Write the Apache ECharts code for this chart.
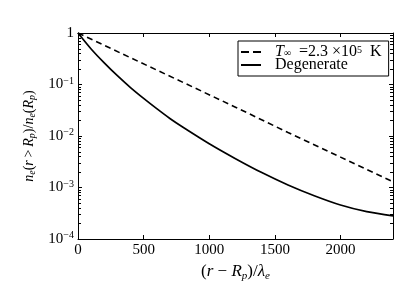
<!DOCTYPE html>
<html>
<head>
<meta charset="utf-8">
<script src="https://cdn.jsdelivr.net/npm/echarts@6/dist/echarts.min.js"></script>
<style>html,body{margin:0;padding:0;background:#fff}#c{width:415px;height:305px}</style>
</head>
<body>
<div id="c"></div>
<script>
// Data
const xDegenerate = [0,100,200,300,400,500,600,700,800,1000,1200,1400,1600,1800,2000,2200,2400];
const degenerate = [1,0.490,0.263,0.148,0.0871,0.0537,0.0339,0.0219,0.0148,0.00708,0.00363,0.00195,0.00112,0.000692,0.000457,0.000339,0.000282];
const xThermal = [0,400,800,1200,1600,2000,2400];
const thermal = [1,0.331,0.110,0.0363,0.0117,0.00389,0.00129];
const xTicks = [0,500,1000,1500,2000];
const yDecades = [-4,-3,-2,-1,0];
const minorMantissas = [2,3,4,5,6,7,8,9];
const minorDecades = [-4,-3,-2,-1];
const seriesNames = ['thermal','Degenerate'];

const FONT = 'Liberation Serif';
const minorData = [];
minorDecades.forEach(d => minorMantissas.forEach(m => minorData.push([0, m * Math.pow(10, d)])));

const chart = echarts.init(document.getElementById('c'), null, {renderer:'canvas'});
const axisCommon = {
  axisLine: {show:true, onZero:false, lineStyle:{color:'#000', width:1}},
  axisTick: {show:true, inside:true, length:4, lineStyle:{color:'#000', width:1}},
  splitLine: {show:false}
};
function titleRich(fs, sfs){
  return {
    p:{fontFamily:FONT, fontSize:fs, color:'#000', lineHeight:fs+3},
    i:{fontFamily:FONT, fontStyle:'italic', fontSize:fs, color:'#000', lineHeight:fs+3},
    sub:{fontFamily:FONT, fontStyle:'italic', fontSize:sfs, color:'#000', verticalAlign:'bottom', lineHeight:sfs}
  };
}
chart.setOption({
  animation: false,
  backgroundColor: '#fff',
  grid: {left:78, right:22, top:33, bottom:66, containLabel:false},
  legend: {
    orient:'vertical', left:238, top:41,
    data: [
      {name: seriesNames[0], icon:'path://M0,0h8v2h-8zM12,0h8v2h-8z'},
      {name: seriesNames[1], icon:'path://M0,0h20v2h-20z'}
    ],
    padding:[3,7,3,3], itemGap:-3, itemWidth:20, itemHeight:2,
    borderColor:'#000', borderWidth:1, borderRadius:0,
    backgroundColor:'#fff',
    itemStyle:{color:'#000', borderWidth:0},
    formatter: function(n){
      if (n === 'thermal') return '{i|T}{sub|∞}{t|  =2.3 ×10}{sup|5}{t|  K}';
      return '{t|' + n + '}';
    },
    textStyle: {
      fontFamily: FONT, fontSize:16, color:'#000', padding:[0,0,0,9],
      lineHeight:13,
      rich: {
        i:{fontFamily:FONT, fontStyle:'italic', fontSize:16, lineHeight:13},
        t:{fontFamily:FONT, fontSize:16, lineHeight:13},
        sub:{fontFamily:FONT, fontSize:10, verticalAlign:'bottom', lineHeight:6},
        sup:{fontFamily:FONT, fontSize:10, verticalAlign:'top', lineHeight:8}
      }
    }
  },
  xAxis: [
    Object.assign({}, axisCommon, {
      type:'value', min:0, max:2400, interval:500, position:'bottom',
      axisLabel:{show:true, margin:4, fontFamily:FONT, fontSize:15, color:'#000', showMaxLabel:false,
        formatter: v => xTicks.indexOf(v) >= 0 ? String(v) : ''},
      name:'{p|(}{i|r}{p| − }{i|R}{sub|p}{p|)/}{i|λ}{sub|e}',
      nameLocation:'middle', nameGap:21,
      nameTextStyle:{fontFamily:FONT, fontSize:17, color:'#000', rich:titleRich(17, 11)}
    }),
    Object.assign({}, axisCommon, {
      type:'value', min:0, max:2400, interval:500, position:'top',
      axisLabel:{show:false}
    })
  ],
  yAxis: [
    Object.assign({}, axisCommon, {
      type:'log', logBase:10, min:1e-4, max:1, position:'left',
      axisLabel:{show:true, margin:4, fontFamily:FONT, fontSize:15, color:'#000',
        formatter: function(v){
          const e = Math.round(Math.log10(v));
          if (yDecades.indexOf(e) < 0) return '';
          if (e === 0) return '{b|1}';
          return '{b|10}{s|−' + (-e) + '}';
        },
        rich:{
          b:{fontFamily:FONT, fontSize:15, color:'#000', lineHeight:17},
          s:{fontFamily:FONT, fontSize:10, color:'#000', verticalAlign:'top', lineHeight:9}
        }},
      name:'{i|n}{sub|e}{p|(}{i|r}{p|\u2009>\u2009}{i|R}{sub|p}{p|)/}{i|n}{sub|e}{p|(}{i|R}{sub|p}{p|)}',
      nameLocation:'middle', nameGap:33, nameRotate:90,
      nameTextStyle:{fontFamily:FONT, fontSize:14, color:'#000', rich:titleRich(14, 10)}
    }),
    Object.assign({}, axisCommon, {
      type:'log', logBase:10, min:1e-4, max:1, position:'right',
      axisLabel:{show:false}
    })
  ],
  series: [
    {
      name:'thermal', type:'line', xAxisIndex:0, yAxisIndex:0,
      data: xThermal.map((x,i)=>[x, thermal[i]]),
      showSymbol:false, symbol:'none',
      lineStyle:{color:'#000', width:1.6, type:[6,4]},
      itemStyle:{color:'#000'}
    },
    {
      name:'Degenerate', type:'line', xAxisIndex:0, yAxisIndex:0,
      data: xDegenerate.map((x,i)=>[x, degenerate[i]]),
      showSymbol:false, symbol:'none', smooth:0.3,
      lineStyle:{color:'#000', width:1.7, type:'solid'},
      itemStyle:{color:'#000'}
    },
    {
      name:'minor', type:'custom', xAxisIndex:0, yAxisIndex:0, silent:true,
      data: minorData,
      renderItem: function(params, api){
        const y = Math.round(api.coord([0, api.value(1)])[1]) + 0.5;
        const cs = params.coordSys;
        const l = cs.x, r = cs.x + cs.width;
        return {type:'group', children:[
          {type:'line', shape:{x1:l, y1:y, x2:l+3, y2:y}, style:{stroke:'#000', lineWidth:1}},
          {type:'line', shape:{x1:r-3, y1:y, x2:r, y2:y}, style:{stroke:'#000', lineWidth:1}}
        ]};
      }
    }
  ]
});
</script>
</body>
</html>
